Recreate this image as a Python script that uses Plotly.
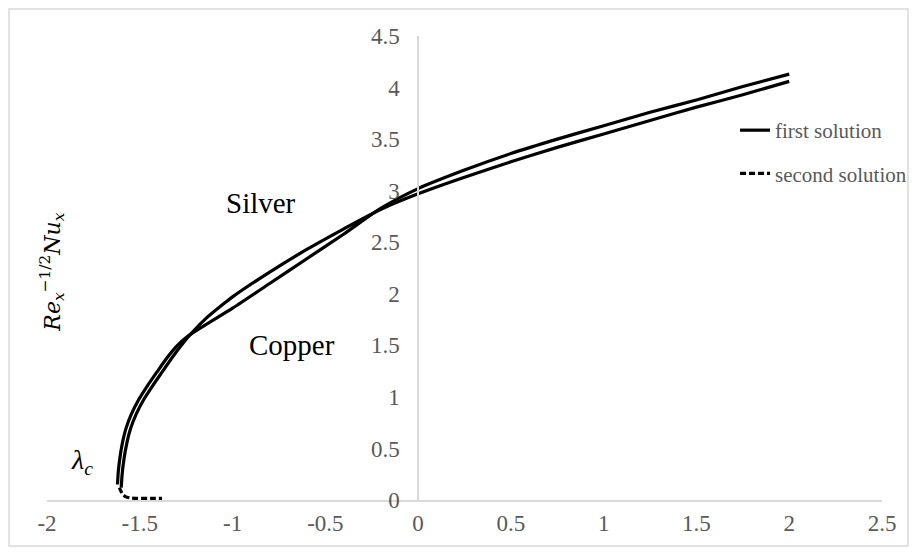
import plotly.graph_objects as go

# ---- data ----
silver_x = [-1.600, -1.595, -1.585, -1.570, -1.550, -1.520, -1.480, -1.430, -1.380, -1.330,
            -1.280, -1.230, -1.150, -1.050, -1.000, -0.800, -0.600, -0.400, -0.200,
            0.00, 0.25, 0.50, 0.75, 1.00, 1.25, 1.50, 1.75, 2.00]
silver_y = [0.12, 0.25, 0.40, 0.55, 0.69, 0.83, 0.97, 1.11, 1.24, 1.37,
            1.49, 1.60, 1.75, 1.90, 1.97, 2.21, 2.43, 2.63, 2.82,
            2.97, 3.13, 3.28, 3.42, 3.55, 3.68, 3.81, 3.93, 4.06]

copper_x = [-1.620, -1.616, -1.607, -1.594, -1.575, -1.546, -1.507, -1.458, -1.408, -1.357,
            -1.302, -1.240, -1.000, -0.800, -0.600, -0.400, -0.200,
            0.00, 0.25, 0.50, 0.75, 1.00, 1.25, 1.50, 1.75, 2.00]
copper_y = [0.15, 0.27, 0.41, 0.55, 0.69, 0.83, 0.97, 1.11, 1.24, 1.37,
            1.49, 1.59, 1.86, 2.10, 2.34, 2.58, 2.83,
            3.02, 3.20, 3.36, 3.50, 3.63, 3.76, 3.88, 4.01, 4.13]

second_x = [-1.61, -1.60, -1.59, -1.575, -1.550, -1.510, -1.460, -1.420, -1.380]
second_y = [0.12, 0.08, 0.05, 0.03, 0.02, 0.015, 0.015, 0.015, 0.015]

x_ticks = [-2, -1.5, -1, -0.5, 0, 0.5, 1, 1.5, 2, 2.5]
x_tick_text = ["-2", "-1.5", "-1", "-0.5", "0", "0.5", "1", "1.5", "2", "2.5"]
y_ticks = [0, 0.5, 1, 1.5, 2, 2.5, 3, 3.5, 4, 4.5]
y_tick_text = ["0", "0.5", "1", "1.5", "2", "2.5", "3", "3.5", "4", "4.5"]

X_RANGE = [-2, 2.5]
Y_RANGE = [0, 4.5]

SERIF = "Liberation Serif"
GRAY = "#595959"
AXIS = "#d9d9d9"

fig = go.Figure()
fig.add_trace(go.Scatter(x=silver_x, y=silver_y, mode="lines", name="first solution",
                         line=dict(color="black", width=3.2, shape="spline", smoothing=0.6),
                         legendgroup="a"))
fig.add_trace(go.Scatter(x=copper_x, y=copper_y, mode="lines", name="first solution",
                         line=dict(color="black", width=3.2, shape="spline", smoothing=0.6),
                         showlegend=False, legendgroup="a"))
fig.add_trace(go.Scatter(x=second_x, y=second_y, mode="lines", name="second solution",
                         line=dict(color="black", width=3.2, dash="6px,3px", shape="spline",
                                   smoothing=0.5),
                         legendgroup="b"))

yaxis_pos = (0 - X_RANGE[0]) / (X_RANGE[1] - X_RANGE[0])

# page body has an 8px default margin; figure sized to fit the 917x555 window
fig.update_layout(
    width=901, height=539,
    margin=dict(l=39, r=27, t=28, b=47, autoexpand=False),
    paper_bgcolor="white", plot_bgcolor="white",
    showlegend=True,
    legend=dict(x=0.824, y=0.8405, xanchor="left", yanchor="top",
                font=dict(family=SERIF, size=21, color=GRAY),
                bgcolor="rgba(0,0,0,0)", traceorder="grouped", tracegroupgap=13,
                itemwidth=30),
    xaxis=dict(range=X_RANGE, tickvals=x_ticks, ticktext=x_tick_text, automargin=False,
               showgrid=False, zeroline=False, showline=True, linecolor=AXIS, linewidth=1.5,
               ticks="", ticklabelstandoff=2,
               tickfont=dict(family=SERIF, size=23, color=GRAY)),
    yaxis=dict(range=Y_RANGE, tickvals=y_ticks, ticktext=y_tick_text, automargin=False,
               anchor="free", position=yaxis_pos,
               showgrid=False, zeroline=False, showline=True, linecolor=AXIS, linewidth=1.5,
               ticks="", ticklabelstandoff=13,
               tickfont=dict(family=SERIF, size=23, color=GRAY)),
    annotations=[
        dict(x=-0.846, y=2.88, xref="x", yref="y", text="Silver", showarrow=False,
             font=dict(family=SERIF, size=29, color="black")),
        dict(x=-0.68, y=1.50, xref="x", yref="y", text="Copper", showarrow=False,
             font=dict(family=SERIF, size=29, color="black")),
        dict(x=-1.81, y=0.37, xref="x", yref="y",
             text="<i>λ</i><sub><i>c</i></sub>", showarrow=False,
             font=dict(family=SERIF, size=28, color="black")),
        dict(x=0.006, y=0.49, xref="paper", yref="paper", textangle=-90,
             text="<i>Re</i><sub><i>x</i></sub><sup>−1/2</sup><i>Nu</i><sub><i>x</i></sub>",
             showarrow=False, xanchor="center", yanchor="middle",
             font=dict(family="DejaVu Serif", size=22, color="black")),
    ],
    shapes=[dict(type="rect", xref="paper", yref="paper",
                 x0=(9 - 47) / 835, x1=(908 - 47) / 835,
                 y0=(500 - 546) / 464, y1=(500 - 9) / 464,
                 line=dict(color=AXIS, width=1.5), layer="below")],
)

fig.write_html("out.html")
